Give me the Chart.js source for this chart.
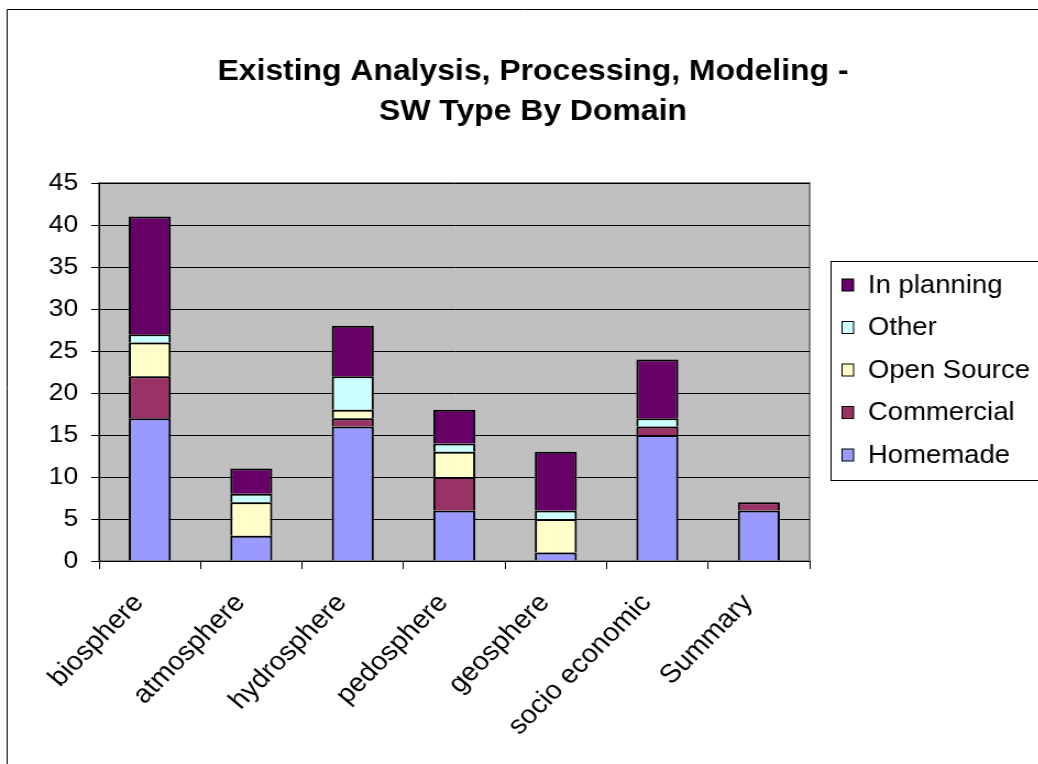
<!DOCTYPE html>
<html>
<head>
<meta charset="utf-8">
<script src="https://cdn.jsdelivr.net/npm/chart.js@4/dist/chart.umd.min.js"></script>
<style>
  html, body { margin: 0; padding: 0; background: #fff; overflow: hidden; }
  /* the chart is laid out on a narrower canvas and widened horizontally */
  #wrap { width: 944px; height: 764px; transform: scaleX(1.1); transform-origin: 0 0; }
  canvas { display: block; }
</style>
</head>
<body>
<div id="wrap"><canvas id="c" width="944" height="764"></canvas></div>
<script>
const TITLE_LINES = ['Existing Analysis, Processing, Modeling -', 'SW Type By Domain'];
const categories = ['biosphere', 'atmosphere', 'hydrosphere', 'pedosphere', 'geosphere', 'socio economic', 'Summary'];
const homemade   = [17, 3, 16, 6, 1, 15, 6];
const commercial = [5, 0, 1, 4, 0, 1, 1];
const openSource = [4, 4, 1, 3, 4, 0, 0];
const other      = [1, 1, 4, 1, 1, 1, 0];
const inPlanning = [14, 3, 6, 4, 7, 7, 0];
const yTicks = [0, 5, 10, 15, 20, 25, 30, 35, 40, 45];

const FONT = '"Liberation Sans", Arial, Helvetica, sans-serif';

function series(label, data, color) {
  return {
    label, data,
    backgroundColor: color,
    borderColor: '#000',
    borderWidth: 2,
    borderSkipped: 'start',
    inflateAmount: 0,
    barPercentage: 0.414,
    categoryPercentage: 1.0
  };
}

// gray plot background, plot frame and outer border
const framePlugin = {
  id: 'frame',
  beforeDraw(chart) {
    const { ctx, chartArea: a } = chart;
    ctx.save();
    ctx.fillStyle = '#fff';
    ctx.fillRect(0, 0, chart.width, chart.height);
    ctx.strokeStyle = '#000';
    ctx.lineWidth = 1;
    ctx.beginPath();
    ctx.moveTo(6.5, chart.height + 2);
    ctx.lineTo(6.5, 9.5);
    ctx.lineTo(chart.width + 2, 9.5);
    ctx.stroke();
    ctx.fillStyle = '#c0c0c0';
    ctx.fillRect(a.left, a.top, a.right - a.left, a.bottom - a.top);
    ctx.strokeStyle = '#808080';
    ctx.lineWidth = 2;
    ctx.strokeRect(a.left, a.top, a.right - a.left, a.bottom - a.top);
    ctx.restore();
  }
};

// two-line bold title
const titlePlugin = {
  id: 'twoLineTitle',
  afterDraw(chart) {
    const { ctx } = chart;
    ctx.save();
    ctx.fillStyle = '#000';
    ctx.font = 'bold 29px ' + FONT;
    ctx.textAlign = 'center';
    ctx.textBaseline = 'alphabetic';
    const cx = 484.5;
    TITLE_LINES.forEach((t, i) => ctx.fillText(t, cx, 80 + i * 40));
    ctx.restore();
  }
};

// boxed legend, series listed top to bottom in reverse stacking order
const legendPlugin = {
  id: 'boxLegend',
  afterDraw(chart) {
    const { ctx } = chart;
    const ds = chart.data.datasets.slice().reverse();
    ctx.save();
    ctx.strokeStyle = '#000';
    ctx.lineWidth = 1;
    ctx.strokeRect(755.5, 261.5, chart.width, 219);
    ctx.font = '25px ' + FONT;
    ctx.textAlign = 'left';
    ctx.textBaseline = 'middle';
    ds.forEach((d, i) => {
      const y = 285 + i * 42.5;
      ctx.fillStyle = d.backgroundColor;
      ctx.fillRect(765.5, y - 6, 10.5, 12);
      ctx.strokeRect(765.5, y - 6, 10.5, 12);
      ctx.fillStyle = '#000';
      ctx.fillText(d.label, 789, y + 1);
    });
    ctx.restore();
  }
};

new Chart(document.getElementById('c'), {
  type: 'bar',
  data: {
    labels: categories,
    datasets: [
      series('Homemade', homemade, '#9999ff'),
      series('Commercial', commercial, '#993366'),
      series('Open Source', openSource, '#ffffcc'),
      series('Other', other, '#ccffff'),
      series('In planning', inPlanning, '#660066')
    ]
  },
  options: {
    responsive: false,
    animation: false,
    devicePixelRatio: 1,
    layout: { padding: { left: 0, right: 208, top: 183, bottom: 0 } },
    plugins: {
      legend: { display: false },
      title: { display: false },
      tooltip: { enabled: false }
    },
    scales: {
      x: {
        stacked: true,
        grid: { offset: true, drawOnChartArea: false, color: '#000', tickLength: 8, lineWidth: 1 },
        border: { color: '#000', width: 1 },
        ticks: {
          color: '#000',
          font: { family: FONT, size: 26 },
          autoSkip: false,
          minRotation: 47.7,
          maxRotation: 47.7,
          padding: 19,
          labelOffset: -10
        },
        afterFit(s) { s.height = 203; }
      },
      y: {
        stacked: true,
        min: 0,
        max: 45,
        afterBuildTicks(s) { s.ticks = yTicks.map(v => ({ value: v })); },
        grid: { color: '#000', tickLength: 7, lineWidth: 1 },
        border: { color: '#000', width: 1 },
        ticks: {
          color: '#000',
          font: { family: FONT, size: 24 },
          padding: 12
        },
        afterFit(s) { s.width = 90; }
      }
    }
  },
  plugins: [framePlugin, titlePlugin, legendPlugin]
});
</script>
</body>
</html>
